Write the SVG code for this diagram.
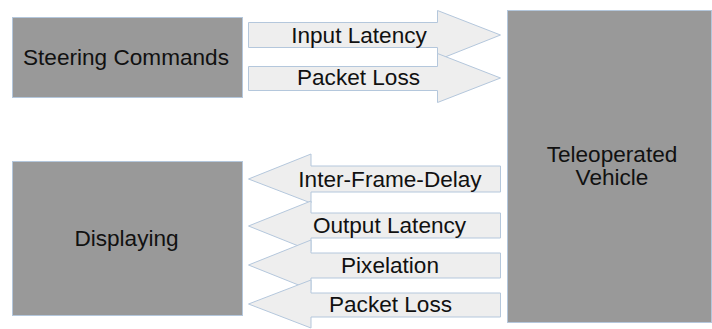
<svg xmlns="http://www.w3.org/2000/svg" width="712" height="329" viewBox="0 0 712 329">
<style>
.box{fill:#999999;stroke:#b4c7dc;stroke-width:1}
.arr{fill:#eeeeee;stroke:#b4c7dc;stroke-width:1}
text{font-family:"Liberation Sans",Arial,sans-serif;font-size:22.6px;fill:#111111;text-anchor:middle}
</style>
<rect width="712" height="329" fill="#ffffff"/>
<g id="steering"><rect class="box" x="12.5" y="17.5" width="230" height="80"/><text x="126" y="65">Steering Commands</text></g>
<g id="displaying"><rect class="box" x="12.5" y="161.5" width="230" height="154"/><text x="126.5" y="246">Displaying</text></g>
<g id="vehicle"><rect class="box" x="507.5" y="10.5" width="204" height="312"/><text x="612" y="162">Teleoperated</text><text x="612" y="185">Vehicle</text></g>
<g id="connectors">
<g id="c-input"><polygon class="arr" points="248.5,22.5 437.5,22.5 437.5,10.5 500.5,35 437.5,60 437.5,47.5 248.5,47.5"/><text x="359" y="43">Input Latency</text></g>
<g id="c-packet1"><polygon class="arr" points="248.5,66.5 437.5,66.5 437.5,53.5 500.5,78 437.5,102.5 437.5,90.5 248.5,90.5"/><text x="358.5" y="85">Packet Loss</text></g>
<g id="c-ifd"><polygon class="arr" points="500.5,166 311,166 311,154 248.5,179 311,203 311,192 500.5,192"/><text x="390" y="187">Inter-Frame-Delay</text></g>
<g id="c-output"><polygon class="arr" points="500.5,213 311,213 311,201 248.5,226 311,251 311,238 500.5,238"/><text x="389.5" y="233">Output Latency</text></g>
<g id="c-pix"><polygon class="arr" points="500.5,253 311,253 311,240 248.5,265 311,290 311,278 500.5,278"/><text x="390" y="273">Pixelation</text></g>
<g id="c-packet2"><polygon class="arr" points="500.5,293 311,293 311,280 248.5,304 311,328 311,317 500.5,317"/><text x="390.5" y="312">Packet Loss</text></g>
</g>
</svg>
